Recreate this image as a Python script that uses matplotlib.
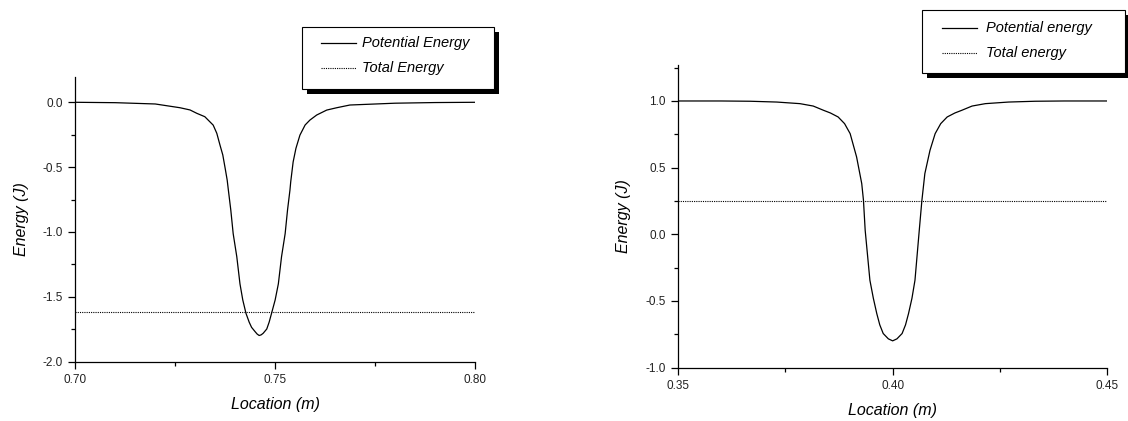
import matplotlib
matplotlib.use("Agg")
import matplotlib.pyplot as plt
from matplotlib.patches import Rectangle
from matplotlib.lines import Line2D
from matplotlib.ticker import MultipleLocator, FormatStrFormatter

plt.rcParams['font.family'] = ['Liberation Sans', 'DejaVu Sans']

# left panel: potential energy
left_x = [0.700, 0.710, 0.720, 0.7262, 0.7287, 0.7304, 0.7324, 0.7345, 0.7354, 0.7362,
          0.7369, 0.7375, 0.7380, 0.7383, 0.7389, 0.7395, 0.7404, 0.7412, 0.7419, 0.7427,
          0.7435, 0.7441, 0.7450, 0.7455, 0.7460, 0.7465, 0.7470, 0.7479, 0.7485, 0.7491,
          0.7500, 0.7508, 0.7516, 0.7525, 0.7531, 0.7537, 0.7539, 0.7545, 0.7552, 0.7562,
          0.7575, 0.7587, 0.7604, 0.7629, 0.7654, 0.7687, 0.780, 0.790, 0.800]
left_pe = [0.0, -0.003, -0.013, -0.042, -0.059, -0.085, -0.111, -0.176, -0.239, -0.33,
           -0.406, -0.51, -0.60, -0.678, -0.83, -1.013, -1.19, -1.40, -1.524, -1.627,
           -1.695, -1.735, -1.769, -1.787, -1.798, -1.793, -1.781, -1.748, -1.695, -1.627,
           -1.524, -1.40, -1.19, -1.013, -0.83, -0.678, -0.612, -0.46, -0.355, -0.253,
           -0.175, -0.137, -0.098, -0.06, -0.042, -0.021, -0.007, -0.002, 0.0]
left_total = -1.62

# right panel
right_x = [0.350, 0.360, 0.3668, 0.3730, 0.3784, 0.3815, 0.3839, 0.3855, 0.3873, 0.3888,
           0.3901, 0.3916, 0.3928, 0.3932, 0.3936, 0.3947, 0.3955, 0.3963, 0.3970, 0.3978,
           0.3990, 0.400, 0.4010, 0.4022, 0.4030, 0.4037, 0.4045, 0.4052, 0.4062, 0.4068,
           0.4075, 0.4087, 0.4099, 0.4112, 0.4127, 0.4145, 0.4161, 0.4185, 0.4216, 0.4270,
           0.4332, 0.440, 0.450]
right_pe = [1.0, 1.0, 0.998, 0.992, 0.98, 0.962, 0.93, 0.91, 0.88, 0.83,
            0.755, 0.58, 0.38, 0.255, 0.03, -0.345, -0.48, -0.595, -0.68, -0.745,
            -0.785, -0.80, -0.785, -0.745, -0.68, -0.595, -0.48, -0.345, 0.03, 0.25,
            0.455, 0.63, 0.755, 0.83, 0.88, 0.91, 0.93, 0.962, 0.98, 0.992,
            0.998, 1.0, 1.0]
right_total = 0.25

W, H = 1128, 421
fig = plt.figure(figsize=(W / 100, H / 100), dpi=100)

def px(x0, y0, x1, y1):
    return [x0 / W, 1 - y1 / H, (x1 - x0) / W, (y1 - y0) / H]

def style(ax, xlim, ylim, xmaj, xmin):
    for s in ['top', 'right']:
        ax.spines[s].set_visible(False)
    for s in ['left', 'bottom']:
        ax.spines[s].set_linewidth(0.9)
    ax.set_xlim(*xlim)
    ax.set_ylim(*ylim)
    ax.xaxis.set_major_locator(MultipleLocator(xmaj))
    ax.xaxis.set_minor_locator(MultipleLocator(xmin))
    ax.yaxis.set_major_locator(MultipleLocator(0.5))
    ax.yaxis.set_minor_locator(MultipleLocator(0.25))
    ax.xaxis.set_major_formatter(FormatStrFormatter('%.2f'))
    ax.yaxis.set_major_formatter(FormatStrFormatter('%.1f'))
    ax.tick_params(which='major', direction='out', length=5, width=0.9, labelsize=8.5,
                   pad=4, labelcolor='#222222')
    ax.tick_params(which='minor', direction='out', length=3, width=0.9)
    ax.set_xlabel('Location (m)', fontsize=11.5, style='italic', labelpad=8)
    ax.set_ylabel('Energy (J)', fontsize=11.5, style='italic', labelpad=10)

ax1 = fig.add_axes(px(75.3, 77, 475, 361.7))
ax1.plot(left_x, left_pe, color='black', lw=0.9)
ax1.plot([0.70, 0.80], [left_total, left_total], color='black', lw=0.8, dashes=(1, 1))
style(ax1, (0.70, 0.80), (-2.0, 0.195), 0.05, 0.025)

ax2 = fig.add_axes(px(678, 65, 1107.3, 367.5))
ax2.plot(right_x, right_pe, color='black', lw=0.9)
ax2.plot([0.35, 0.45], [right_total, right_total], color='black', lw=0.8, dashes=(1, 1))
style(ax2, (0.35, 0.45), (-1.0, 1.27), 0.05, 0.025)

def legend_box(x0, y0, x1, y1, lx0, lx1, tx, rows, labels):
    # shadow then box
    fig.add_artist(Rectangle(((x0 + 5) / W, 1 - (y1 + 5) / H), (x1 - x0) / W, (y1 - y0) / H,
                             transform=fig.transFigure, facecolor='black', edgecolor='none'))
    fig.add_artist(Rectangle((x0 / W, 1 - y1 / H), (x1 - x0) / W, (y1 - y0) / H,
                             transform=fig.transFigure, facecolor='white', edgecolor='black', lw=0.8))
    for i, (ry, lab) in enumerate(zip(rows, labels)):
        kw = dict(color='black', lw=0.9) if i == 0 else dict(color='black', lw=0.8, dashes=(1, 1))
        fig.add_artist(Line2D([lx0 / W, lx1 / W], [1 - ry / H, 1 - ry / H],
                              transform=fig.transFigure, **kw))
        fig.text(tx / W, 1 - ry / H, lab, fontsize=10.5, style='italic', va='center', ha='left')

legend_box(302, 27, 494, 89, 321, 356, 362, [43, 68], ['Potential Energy', 'Total Energy'])
legend_box(922, 10, 1125, 73, 942, 977, 986, [28, 53], ['Potential energy', 'Total energy'])

fig.savefig('out.png', dpi=100)
